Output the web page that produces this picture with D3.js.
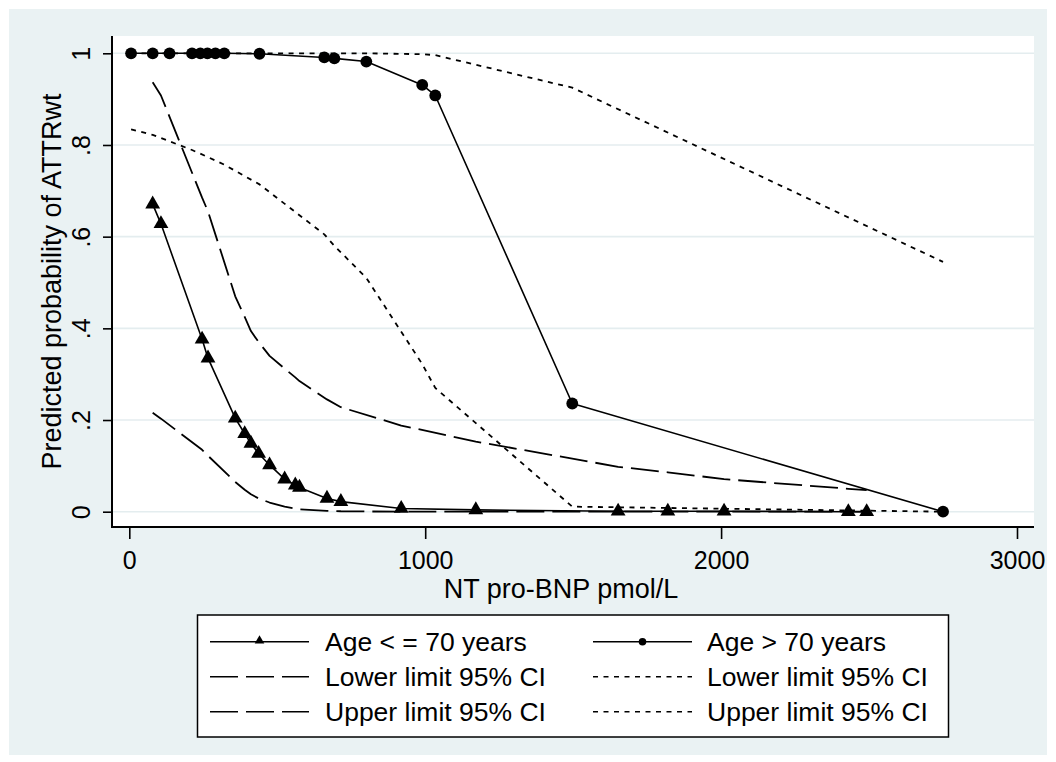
<!DOCTYPE html>
<html>
<head>
<meta charset="utf-8">
<script src="https://cdn.jsdelivr.net/npm/d3@7/dist/d3.min.js"></script>
<style>
  html, body { margin: 0; padding: 0; background: #ffffff; }
  svg { display: block; }
  text { font-family: Arial, "Liberation Sans", sans-serif; fill: #000; }
</style>
</head>
<body>
<script>
// NT pro-BNP (pmol/L) and predicted probability of ATTRwt, age <= 70 years
const youngBNP   = [79, 107, 246, 266, 358, 390, 411, 437, 474, 525, 561, 575, 668, 715, 919, 1171, 1652, 1820, 2010, 2430, 2492];
const youngProb  = [0.671, 0.628, 0.376, 0.335, 0.204, 0.170, 0.149, 0.127, 0.102, 0.071, 0.058, 0.053, 0.029, 0.022, 0.007, 0.004, 0.001, 0.001, 0.001, 0, 0];
const youngLower = [0.216, 0.203, 0.135, 0.122, 0.065, 0.048, 0.038, 0.029, 0.020, 0.011, 0.007, 0.005, 0.002, 0.001, 0, 0, 0, 0, 0, 0, 0];
const youngUpper = [0.937, 0.908, 0.685, 0.655, 0.470, 0.425, 0.394, 0.370, 0.340, 0.312, 0.293, 0.285, 0.245, 0.228, 0.188, 0.153, 0.098, 0.086, 0.071, 0.050, 0.047];

// Age > 70 years
const oldBNP   = [6, 79, 136, 212, 240, 264, 291, 321, 440, 659, 693, 801, 990, 1034, 1497, 2750];
const oldProb  = [1, 1, 1, 1, 1, 1, 1, 1, 0.999, 0.991, 0.989, 0.982, 0.931, 0.908, 0.236, 0];
const oldLower = [0.834, 0.822, 0.808, 0.789, 0.781, 0.774, 0.766, 0.757, 0.714, 0.605, 0.580, 0.510, 0.322, 0.270, 0.011, 0];
const oldUpper = [1, 1, 1, 1, 1, 1, 1, 1, 1, 1, 1, 1, 0.998, 0.996, 0.925, 0.545];

// Axis ticks
const xTicks = [0, 1000, 2000, 3000];
const yTicks = [0, 0.2, 0.4, 0.6, 0.8, 1];
const yTickLabels = ["0", ".2", ".4", ".6", ".8", "1"];

const xTitle = "NT pro-BNP pmol/L";
const yTitle = "Predicted probability of ATTRwt";

const legendLabels = [
  "Age < = 70 years", "Age > 70 years",
  "Lower limit 95% CI", "Lower limit 95% CI",
  "Upper limit 95% CI", "Upper limit 95% CI"
];

const W = 1056, H = 762;
const BG = "#EAF2F3";
const TICK_FONT = 25;
const TITLE_FONT = 27;
const LEGEND_FONT = 26.5;
const plot = { left: 112, top: 36, right: 1034, bottom: 527 };

const svg = d3.select("body").append("svg").attr("width", W).attr("height", H);

svg.append("rect").attr("width", W).attr("height", H).attr("fill", "#ffffff");
svg.append("rect").attr("x", 9).attr("y", 9).attr("width", W - 18).attr("height", H - 16).attr("fill", BG);
svg.append("rect")
  .attr("x", plot.left).attr("y", plot.top)
  .attr("width", plot.right - plot.left).attr("height", plot.bottom - plot.top)
  .attr("fill", "#ffffff");

const x = d3.scaleLinear().domain([0, 3000]).range([129.3, 1017]);
const y = d3.scaleLinear().domain([0, 1]).range([511.7, 53.3]);

// Horizontal grid lines
svg.append("g").selectAll("line").data(yTicks).join("line")
  .attr("x1", plot.left).attr("x2", plot.right)
  .attr("y1", d => y(d)).attr("y2", d => y(d))
  .attr("stroke", "#E4EDEF").attr("stroke-width", 1.6);

// Y axis
const yAxis = svg.append("g").attr("transform", `translate(${plot.left},0)`)
  .call(d3.axisLeft(y).tickValues(yTicks).tickSize(9)
    .tickFormat((d, i) => yTickLabels[i]));
yAxis.select(".domain").remove();
yAxis.selectAll(".tick line").attr("stroke", "#000").attr("stroke-width", 1.6);
yAxis.selectAll(".tick text")
  .attr("x", null).attr("dy", null)
  .attr("text-anchor", "middle")
  .attr("transform", "translate(-22,0) rotate(-90)")
  .style("font-size", TICK_FONT + "px")
  .style("font-family", "Arial, 'Liberation Sans', sans-serif");

// X axis
const xAxis = svg.append("g").attr("transform", `translate(0,${plot.bottom})`)
  .call(d3.axisBottom(x).tickValues(xTicks).tickSize(12).tickFormat(d3.format("d")));
xAxis.select(".domain").remove();
xAxis.selectAll(".tick line").attr("stroke", "#000").attr("stroke-width", 1.6);
xAxis.selectAll(".tick text")
  .attr("y", 42).attr("dy", null)
  .style("font-size", TICK_FONT + "px")
  .style("font-family", "Arial, 'Liberation Sans', sans-serif");

// Axis lines
svg.append("line").attr("x1", plot.left).attr("x2", plot.left)
  .attr("y1", plot.top).attr("y2", plot.bottom + 1)
  .attr("stroke", "#000").attr("stroke-width", 2);
svg.append("line").attr("x1", plot.left - 1).attr("x2", plot.right)
  .attr("y1", plot.bottom).attr("y2", plot.bottom)
  .attr("stroke", "#000").attr("stroke-width", 2);

// Axis titles
svg.append("text")
  .attr("x", 561).attr("y", 598)
  .attr("text-anchor", "middle").style("font-size", TITLE_FONT + "px")
  .text(xTitle);
svg.append("text")
  .attr("transform", `translate(61,${(plot.top + plot.bottom) / 2}) rotate(-90)`)
  .attr("text-anchor", "middle").style("font-size", TITLE_FONT + "px")
  .text(yTitle);

// Line styles
const LONGDASH = "28,8";
const SHORTDASH = "5,5.5";

const line = d3.line().x(d => x(d[0])).y(d => y(d[1]));
const g = svg.append("g");

function drawLine(xs, ys, dash, width) {
  g.append("path")
    .attr("d", line(d3.zip(xs, ys)))
    .attr("fill", "none").attr("stroke", "#000")
    .attr("stroke-width", width)
    .attr("stroke-dasharray", dash)
    .attr("stroke-linejoin", "round");
}

drawLine(youngBNP, youngProb, null, 1.6);
drawLine(oldBNP, oldProb, null, 1.6);
drawLine(youngBNP, youngLower, LONGDASH, 1.8);
drawLine(youngBNP, youngUpper, LONGDASH, 1.8);
drawLine(oldBNP, oldLower, SHORTDASH, 1.8);
drawLine(oldBNP, oldUpper, SHORTDASH, 1.8);

// Markers
const tri = d3.symbol().type(d3.symbolTriangle).size(95);
g.selectAll(".tri").data(d3.zip(youngBNP, youngProb)).join("path")
  .attr("class", "tri")
  .attr("d", tri)
  .attr("transform", d => `translate(${x(d[0])},${y(d[1])})`)
  .attr("fill", "#000");

g.selectAll(".dot").data(d3.zip(oldBNP, oldProb)).join("circle")
  .attr("class", "dot")
  .attr("cx", d => x(d[0])).attr("cy", d => y(d[1]))
  .attr("r", 5.9).attr("fill", "#000");

// Legend
const leg = svg.append("g");
leg.append("rect").attr("x", 197.5).attr("y", 615).attr("width", 751).attr("height", 122)
  .attr("fill", "#fff").attr("stroke", "#000").attr("stroke-width", 1.5);

const rowY = [641.7, 676.7, 711.7];
const cols = [
  { x1: 210, x2: 309, text: 325 },
  { x1: 593, x2: 692, text: 707 }
];
const legendStyles = [
  { dash: null, marker: "tri" }, { dash: null, marker: "dot" },
  { dash: LONGDASH, marker: null }, { dash: SHORTDASH, marker: null },
  { dash: LONGDASH, marker: null }, { dash: SHORTDASH, marker: null }
];

legendLabels.forEach((label, i) => {
  const c = cols[i % 2];
  const ry = rowY[Math.floor(i / 2)];
  const st = legendStyles[i];
  leg.append("line")
    .attr("x1", c.x1).attr("x2", c.x2).attr("y1", ry).attr("y2", ry)
    .attr("stroke", "#000").attr("stroke-width", 1.6)
    .attr("stroke-dasharray", st.dash);
  const mx = (c.x1 + c.x2) / 2;
  if (st.marker === "tri") {
    leg.append("path").attr("d", d3.symbol().type(d3.symbolTriangle).size(40)())
      .attr("transform", `translate(${mx},${ry - 1})`).attr("fill", "#000");
  } else if (st.marker === "dot") {
    leg.append("circle").attr("cx", mx).attr("cy", ry).attr("r", 3.8).attr("fill", "#000");
  }
  leg.append("text").attr("x", c.text).attr("y", ry + 9)
    .style("font-size", LEGEND_FONT + "px").text(label);
});
</script>
</body>
</html>
